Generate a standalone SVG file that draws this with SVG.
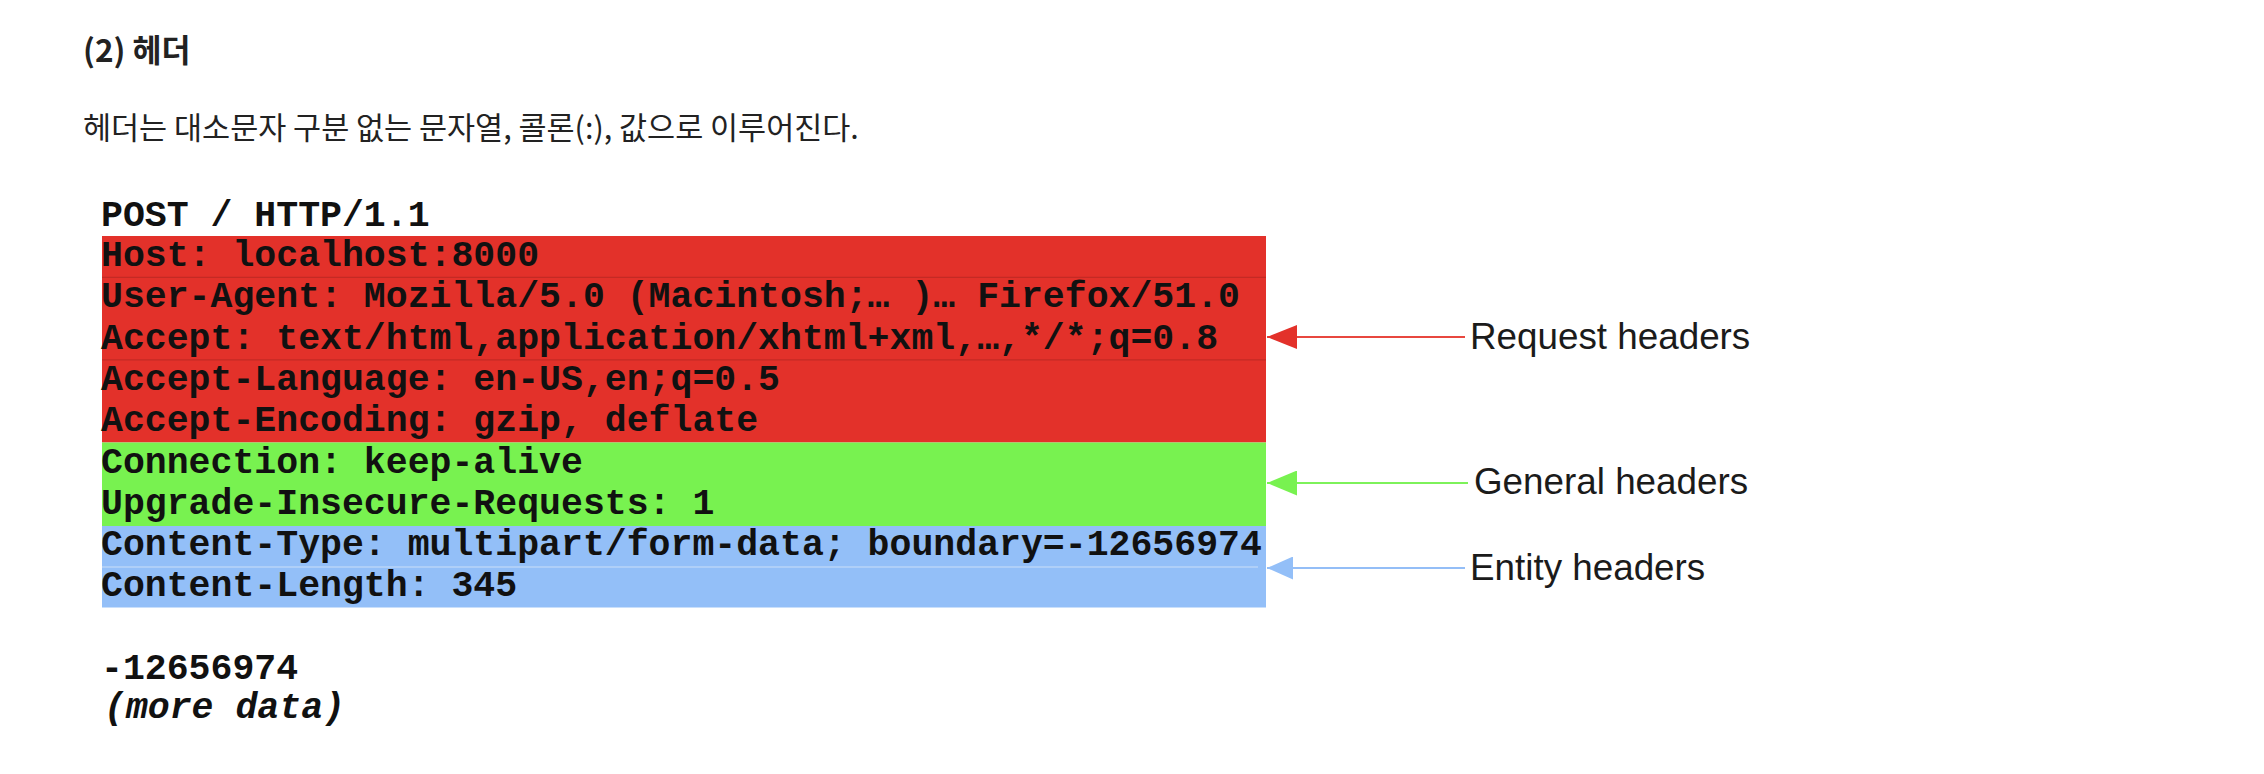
<svg xmlns="http://www.w3.org/2000/svg" width="2264" height="774" viewBox="0 0 2264 774">
<style>
.kr{font-family:"Noto Sans CJK KR","Noto Sans",sans-serif;fill:#222}
.mono{font-family:"Liberation Mono","Courier New",monospace;font-weight:bold;font-size:36.5px;fill:#111}
.lbl{font-family:"Liberation Sans",Arial,sans-serif;font-size:36.8px;fill:#1b1b1b}
.req{fill:#e3312a}
.gen{fill:#78f250}
.ent{fill:#93bff8}
.sep-r{stroke:#c42a24;stroke-width:1.2}
.sep-b{stroke:#b9d4f8;stroke-width:1.5}
.c-r{stroke:#e8473f;stroke-width:2;fill:none}
.c-g{stroke:#7df25a;stroke-width:2;fill:none}
.c-b{stroke:#94bef7;stroke-width:2;fill:none}
</style>
<defs>
<marker id="ah-r" viewBox="0 0 30 24" markerWidth="30" markerHeight="24" refX="30" refY="12" orient="auto" markerUnits="userSpaceOnUse"><path d="M0,0 L30,12 L0,24 z" fill="#e3312a"/></marker>
<marker id="ah-g" viewBox="0 0 30 25" markerWidth="30" markerHeight="25" refX="30" refY="12.5" orient="auto" markerUnits="userSpaceOnUse"><path d="M0,0 L30,12.5 L0,25 z" fill="#78f250"/></marker>
<marker id="ah-b" viewBox="0 0 26 23" markerWidth="26" markerHeight="23" refX="26" refY="11.5" orient="auto" markerUnits="userSpaceOnUse"><path d="M0,0 L26,11.5 L0,23 z" fill="#93bff8"/></marker>
</defs>
<rect width="2264" height="774" fill="#ffffff"/>

<g id="title">
<text class="kr" x="83" y="62" font-size="31.5" font-weight="bold">(2) 헤더</text>
</g>
<g id="subtitle">
<text class="kr" x="83" y="139" font-size="30.5">헤더는 대소문자 구분 없는 문자열, 콜론(:), 값으로 이루어진다.</text>
</g>

<g id="request-line">
<text class="mono" x="101" y="226">POST / HTTP/1.1</text>
</g>

<g id="request-headers">
<rect class="req" x="102" y="236" width="1164" height="206.5"/>
<line class="sep-r" x1="102" y1="277.3" x2="1266" y2="277.3"/>
<line class="sep-r" x1="102" y1="359.9" x2="1266" y2="359.9"/>
<text class="mono" x="101" y="266">Host: localhost:8000</text>
<text class="mono" x="101" y="307.3">User-Agent: Mozilla/5.0 (Macintosh;… )… Firefox/51.0</text>
<text class="mono" x="101" y="348.6">Accept: text/html,application/xhtml+xml,…,*/*;q=0.8</text>
<text class="mono" x="101" y="389.9">Accept-Language: en-US,en;q=0.5</text>
<text class="mono" x="101" y="431.2">Accept-Encoding: gzip, deflate</text>
</g>

<g id="general-headers">
<rect class="gen" x="102" y="442.5" width="1164" height="83.5"/>
<text class="mono" x="101" y="472.5">Connection: keep-alive</text>
<text class="mono" x="101" y="513.8">Upgrade-Insecure-Requests: 1</text>
</g>

<g id="entity-headers">
<rect class="ent" x="102" y="526" width="1164" height="81.5"/>
<line class="sep-b" x1="102" y1="567" x2="1258" y2="567"/>
<text class="mono" x="101" y="555.1">Content-Type: multipart/form-data; boundary=-12656974</text>
<text class="mono" x="101" y="596.4">Content-Length: 345</text>
</g>

<g id="body">
<text class="mono" x="101" y="679">-12656974</text>
<text class="mono" x="104" y="718" font-style="italic">(more data)</text>
</g>

<g id="connectors">
<line class="c-r" x1="1465" y1="337" x2="1267" y2="337" marker-end="url(#ah-r)"/>
<line class="c-g" x1="1468" y1="483" x2="1267" y2="483" marker-end="url(#ah-g)"/>
<line class="c-b" x1="1465" y1="568" x2="1267" y2="568" marker-end="url(#ah-b)"/>
</g>

<g id="label-request">
<text class="lbl" x="1470" y="349">Request headers</text>
</g>
<g id="label-general">
<text class="lbl" x="1474" y="494">General headers</text>
</g>
<g id="label-entity">
<text class="lbl" x="1470" y="580">Entity headers</text>
</g>
</svg>
